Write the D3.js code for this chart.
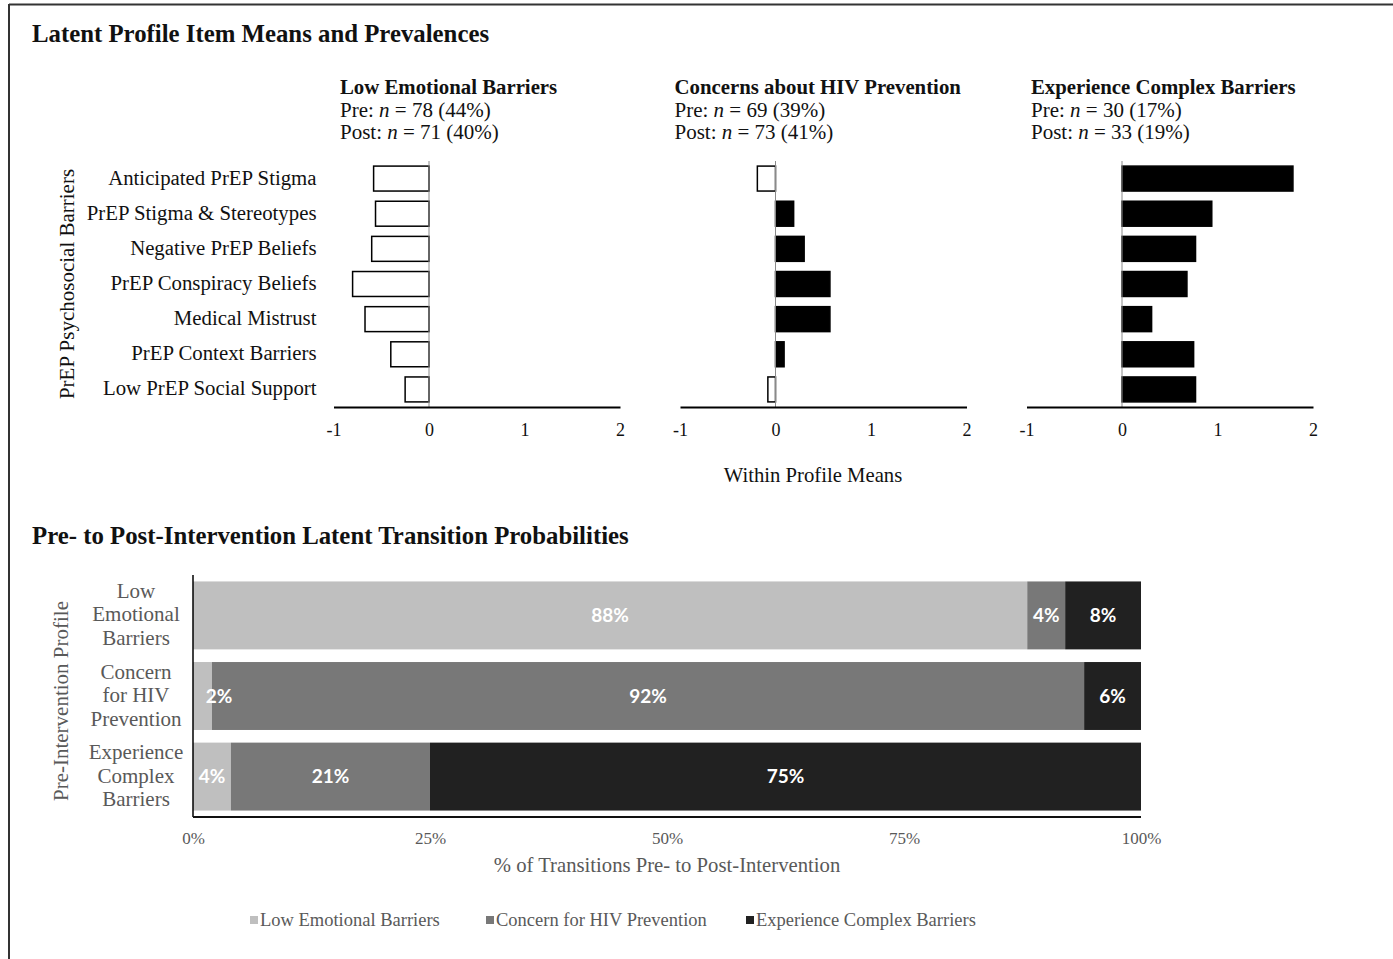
<!DOCTYPE html>
<html>
<head>
<meta charset="utf-8">
<script src="https://cdn.jsdelivr.net/npm/d3@7"></script>
<style>
  html, body { margin: 0; padding: 0; background: #fff; }
  svg { display: block; font-family: "Liberation Serif", "Times New Roman", serif; }
</style>
</head>
<body>
<svg id="chart" width="1393" height="959"></svg>
<script>
// ---- Latent profile item means ----
const barriers = [
  "Anticipated PrEP Stigma",
  "PrEP Stigma & Stereotypes",
  "Negative PrEP Beliefs",
  "PrEP Conspiracy Beliefs",
  "Medical Mistrust",
  "PrEP Context Barriers",
  "Low PrEP Social Support"
];
const profileNames = ["Low Emotional Barriers", "Concerns about HIV Prevention", "Experience Complex Barriers"];
const preN = [78, 69, 30];
const prePct = [44, 39, 17];
const postN = [71, 73, 33];
const postPct = [40, 41, 19];
const meansLowEmotional = [-0.58, -0.56, -0.60, -0.80, -0.67, -0.40, -0.25];
const meansConcernsHIV = [-0.19, 0.19, 0.30, 0.57, 0.57, 0.09, -0.08];
const meansComplex = [1.79, 0.94, 0.77, 0.68, 0.31, 0.75, 0.77];
const meanTicks = [-1, 0, 1, 2];

// ---- Transition probabilities (%) ----
const preProfileLines = [
  ["Low", "Emotional", "Barriers"],
  ["Concern", "for HIV", "Prevention"],
  ["Experience", "Complex", "Barriers"]
];
const postProfiles = ["Low Emotional Barriers", "Concern for HIV Prevention", "Experience Complex Barriers"];
const toLowEmotional = [88, 2, 4];
const toConcernHIV = [4, 92, 21];
const toComplex = [8, 6, 75];
const pctTicks = [0, 25, 50, 75, 100];

const SERIF = "'Liberation Serif', 'Times New Roman', serif";
const SANS = "Lato, 'Open Sans', sans-serif";

const svg = d3.select("#chart");

// frame lines
svg.append("line").attr("x1", 9).attr("y1", 4.5).attr("x2", 1393).attr("y2", 4.5)
  .attr("stroke", "#333").attr("stroke-width", 2);
svg.append("line").attr("x1", 9).attr("y1", 4).attr("x2", 9).attr("y2", 959)
  .attr("stroke", "#333").attr("stroke-width", 2);

// ================= Top: item means =================
svg.append("text").attr("x", 32).attr("y", 42)
  .attr("font-size", 24.8).attr("font-weight", "bold").attr("fill", "#111")
  .text("Latent Profile Item Means and Prevalences");

const allMeans = [meansLowEmotional, meansConcernsHIV, meansComplex];
const unit = 95.5;
const headerOffset = [6.5, -5.5, 4.5];
const y = d3.scaleBand().domain(barriers).range([161, 407]).paddingInner(0.29).paddingOuter(0.145);

allMeans.forEach((means, i) => {
  const left = 333.5 + i * 346.5;
  const x = d3.scaleLinear().domain([-1, 2]).range([left, left + 3 * unit]);
  const g = svg.append("g");

  // header
  const hx = left + headerOffset[i];
  g.append("text").attr("x", hx).attr("y", 94)
    .attr("font-size", 20.8).attr("font-weight", "bold").attr("fill", "#111")
    .text(profileNames[i]);
  const pre = g.append("text").attr("x", hx).attr("y", 117).attr("font-size", 21).attr("fill", "#111");
  pre.append("tspan").text("Pre: ");
  pre.append("tspan").attr("font-style", "italic").text("n");
  pre.append("tspan").text(` = ${preN[i]} (${prePct[i]}%)`);
  const post = g.append("text").attr("x", hx).attr("y", 139).attr("font-size", 21).attr("fill", "#111");
  post.append("tspan").text("Post: ");
  post.append("tspan").attr("font-style", "italic").text("n");
  post.append("tspan").text(` = ${postN[i]} (${postPct[i]}%)`);

  // bars: negative means hollow, positive filled
  g.selectAll("rect.bar").data(barriers.map((b, j) => ({ b, v: means[j] })))
    .join("rect").attr("class", "bar")
    .attr("x", d => x(Math.min(0, d.v)))
    .attr("width", d => Math.abs(x(d.v) - x(0)))
    .attr("y", d => y(d.b))
    .attr("height", y.bandwidth())
    .attr("fill", d => d.v < 0 ? "#fff" : "#000")
    .attr("stroke", "#000").attr("stroke-width", 1.5);

  // zero line
  g.append("line").attr("x1", x(0)).attr("x2", x(0)).attr("y1", 161).attr("y2", 407)
    .attr("stroke", "#8a8a8a").attr("stroke-width", 1);

  // x axis
  const ax = g.append("g").attr("transform", "translate(0,407)")
    .call(d3.axisBottom(x).tickValues(meanTicks).tickSize(0).tickPadding(16).tickFormat(d => String(d)));
  ax.select(".domain").attr("stroke", "#000").attr("stroke-width", 2);
  ax.selectAll(".tick text").attr("font-size", 18).attr("fill", "#111")
    .style("font-family", SERIF);

  if (i === 0) {
    g.selectAll("text.cat").data(barriers).join("text").attr("class", "cat")
      .attr("x", left - 17).attr("y", d => y(d) + y.bandwidth() / 2 + 6)
      .attr("text-anchor", "end").attr("font-size", 20.8).attr("fill", "#111")
      .text(d => d);
  }
});

svg.append("text").attr("transform", "translate(74,284) rotate(-90)")
  .attr("text-anchor", "middle").attr("font-size", 21).attr("fill", "#111")
  .text("PrEP Psychosocial Barriers");
svg.append("text").attr("x", 813).attr("y", 482)
  .attr("text-anchor", "middle").attr("font-size", 20.7).attr("fill", "#111")
  .text("Within Profile Means");

// ================= Bottom: transitions =================
svg.append("text").attr("x", 32).attr("y", 544)
  .attr("font-size", 24.8).attr("font-weight", "bold").attr("fill", "#111")
  .text("Pre- to Post-Intervention Latent Transition Probabilities");

const xp = d3.scaleLinear().domain([0, 100]).range([193, 1141]);
const rows = d3.range(3);
const yp = d3.scaleBand().domain(rows).range([575, 817]).paddingInner(0.157).paddingOuter(0.08);
const colors = ["#bfbfbf", "#787878", "#212121"];

const table = rows.map(r => ({ row: r, low: toLowEmotional[r], concern: toConcernHIV[r], complex: toComplex[r] }));
const stack = d3.stack().keys(["low", "concern", "complex"])(table);

const gb = svg.append("g");
stack.forEach((layer, k) => {
  gb.selectAll(null).data(layer).join("rect")
    .attr("x", d => xp(d[0]))
    .attr("width", d => xp(d[1]) - xp(d[0]))
    .attr("y", d => yp(d.data.row))
    .attr("height", yp.bandwidth())
    .attr("fill", colors[k]);
});
stack.forEach((layer, k) => {
  gb.selectAll(null).data(layer).join("text")
    .attr("x", d => {
      const x0 = xp(d[0]), x1 = xp(d[1]);
      return (x1 - x0) < 30 ? x0 + 26 : (x0 + x1) / 2;
    })
    .attr("y", d => yp(d.data.row) + yp.bandwidth() / 2 + 6.5)
    .attr("text-anchor", "middle")
    .style("font-family", SANS)
    .attr("font-weight", "bold").attr("font-size", 19).attr("fill", "#fff")
    .text(d => `${d[1] - d[0]}%`);
});

// axes
gb.append("line").attr("x1", 193).attr("x2", 193).attr("y1", 575).attr("y2", 817)
  .attr("stroke", "#000").attr("stroke-width", 1.5);
gb.append("line").attr("x1", 193).attr("x2", 1141).attr("y1", 817).attr("y2", 817)
  .attr("stroke", "#111").attr("stroke-width", 2);
const axp = gb.append("g").attr("transform", "translate(0,817)")
  .call(d3.axisBottom(xp).tickValues(pctTicks).tickSize(0).tickPadding(15).tickFormat(d => d + "%"));
axp.select(".domain").remove();
axp.selectAll(".tick text").attr("font-size", 17).attr("fill", "#595959")
  .style("font-family", SERIF);

// row labels
rows.forEach(r => {
  const cy = yp(r) + yp.bandwidth() / 2;
  const t = gb.append("text").attr("text-anchor", "middle").attr("font-size", 21).attr("fill", "#595959");
  preProfileLines[r].forEach((line, li) => {
    t.append("tspan").attr("x", 136).attr("y", cy + (li - 1) * 23.5 + 6).text(line);
  });
});

svg.append("text").attr("transform", "translate(68,701) rotate(-90)")
  .attr("text-anchor", "middle").attr("font-size", 21).attr("fill", "#595959")
  .text("Pre-Intervention Profile");
svg.append("text").attr("x", 667).attr("y", 872)
  .attr("text-anchor", "middle").attr("font-size", 20.7).attr("fill", "#595959")
  .text("% of Transitions Pre- to Post-Intervention");

// legend
const legendX = [250, 486, 746];
postProfiles.forEach((name, k) => {
  const lg = svg.append("g").attr("transform", `translate(${legendX[k]},920)`);
  lg.append("rect").attr("x", 0).attr("y", -4).attr("width", 8).attr("height", 8).attr("fill", colors[k]);
  lg.append("text").attr("x", 10).attr("y", 6).attr("font-size", 18.5).attr("fill", "#595959").text(name);
});
</script>
</body>
</html>
